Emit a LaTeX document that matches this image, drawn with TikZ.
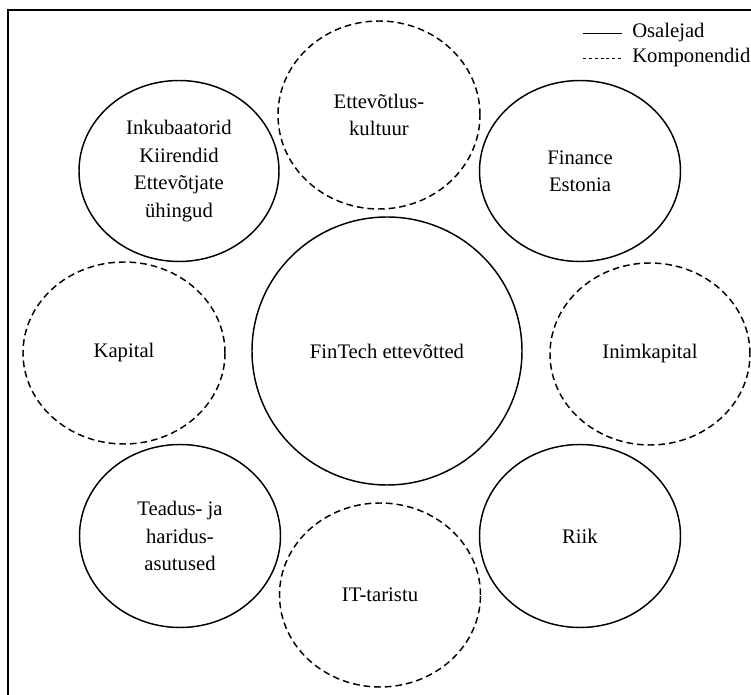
\documentclass[tikz,border=0pt]{standalone}
\usepackage{fontspec}
\setmainfont{Liberation Serif}
\usetikzlibrary{shapes.geometric}
\tikzset{
  blob/.style={ellipse, draw, line width=1.1pt, inner sep=0pt, align=center,
    font=\fontsize{15.5}{20.6}\selectfont},
  actor/.style={blob},
  part/.style={blob, dash pattern=on 5pt off 3pt},
  sz/.style 2 args={minimum width=#1*0.75pt, minimum height=#2*0.75pt},
  legtext/.style={anchor=west, inner sep=0pt, font=\fontsize{15.5}{20.6}\selectfont},
}
\begin{document}
\begin{tikzpicture}[x=0.75pt, y=-0.75pt]
\useasboundingbox (0,0) rectangle (751,695);
\clip (0,0) rectangle (751,695);
% outer frame, only its top and left edges fall inside the page
\draw[line width=1.5pt] (8,720) -- (8,10) -- (780,10);

% legend
\coordinate (l1a) at (583,33); \coordinate (l1b) at (622,33);
\coordinate (l2a) at (583,58); \coordinate (l2b) at (622,58);
\draw[line width=0.7pt] (l1a) -- (l1b);
\draw[line width=0.7pt, dash pattern=on 2.2pt off 2.2pt] (l2a) -- (l2b);
\node[legtext] (osal) at (632,33) {Osalejad};
\node[legtext] (komp) at (632,58) {Komponendid};

% ecosystem
\node[actor, sz={270}{268}] (fin) at (387,351) {FinTech ettevõtted};
\node[part,  sz={202}{188}] (kult) at (379,115) {Ettevõtlus-\\kultuur};
\node[actor, sz={200}{181}] (ink) at (179,171) {Inkubaatorid\\Kiirendid\\Ettevõtjate\\ühingud};
\node[actor, sz={201}{181}] (fe) at (580,171) {Finance\\Estonia};
\node[part,  sz={202}{182}] (kap) at (124,353) {Kapital};
\node[part,  sz={200}{182}] (inim) at (650,354) {Inimkapital};
\node[actor, sz={201}{183}] (tea) at (180,536) {Teadus- ja\\haridus-\\asutused};
\node[actor, sz={201}{183}] (riik) at (580,536) {Riik};
\node[part,  sz={201}{184}] (it) at (380,595) {IT-taristu};
\end{tikzpicture}
\end{document}
